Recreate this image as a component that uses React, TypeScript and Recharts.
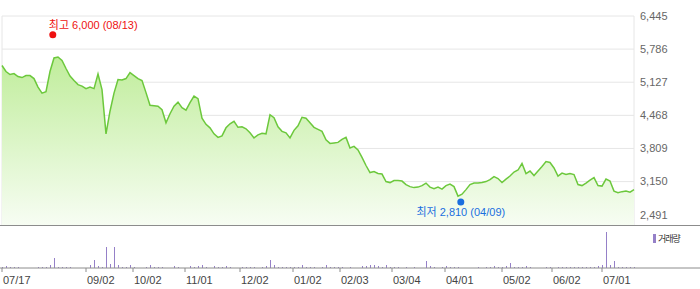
import {
  Area,
  AreaChart,
  Bar,
  CartesianGrid,
  ComposedChart,
  ReferenceDot,
  XAxis,
  YAxis,
} from "recharts";

const FONT = "'Liberation Sans', 'Noto Sans CJK KR', sans-serif";

// closing prices, one sample per slot from 07/17 to early 07
const closePrices = [
  5460, 5340, 5280, 5300, 5240, 5220, 5260, 5260, 5200, 5030,
  4910, 4940, 5340, 5610, 5630, 5560, 5400, 5250, 5160, 5080,
  5050, 5000, 5030, 5000, 5290, 4980, 4100, 4550, 4910, 5180,
  5170, 5200, 5320, 5260, 5200, 5160, 4920, 4670, 4660, 4650,
  4580, 4320, 4500, 4650, 4730, 4620, 4570, 4720, 4850, 4800,
  4410, 4290, 4220, 4100, 4030, 4060, 4220, 4300, 4350, 4230,
  4240, 4200, 4120, 4020, 4080, 4110, 4100, 4480, 4420, 4240,
  4150, 4120, 4020, 4170, 4260, 4430, 4410, 4320, 4230, 4190,
  4150, 3980, 3910, 3920, 3930, 3990, 4030, 3820, 3850, 3780,
  3630, 3470, 3330, 3350, 3310, 3300, 3150, 3130, 3170, 3170,
  3160, 3090, 3050, 3030, 3040, 3070, 3120, 3040, 3010, 3040,
  3000, 3070, 3100, 3050, 2860, 2900, 2990, 3090, 3120, 3120,
  3130, 3150, 3190, 3250, 3210, 3130, 3200, 3260, 3340, 3380,
  3510, 3310, 3360, 3270, 3360, 3450, 3550, 3530, 3420, 3260,
  3320, 3290, 3310, 3290, 3090, 3070, 3120, 3180, 3230, 3070,
  3060, 3200, 3160, 2960, 2930, 2950, 2960, 2940, 2990,
];

// traded volume (thousand shares)
const volumes = [
  25, 50, 25, 22, 20, 0, 0, 0, 0, 22,
  24, 26, 75, 250, 24, 22, 20, 24, 0, 0,
  0, 0, 72, 200, 48, 25, 525, 100, 525, 75,
  25, 22, 75, 20, 0, 0, 22, 70, 24, 22,
  20, 0, 0, 48, 22, 0, 0, 50, 22, 48,
  74, 22, 0, 46, 24, 22, 48, 22, 0, 0,
  24, 22, 20, 24, 0, 22, 50, 200, 75, 25,
  22, 24, 20, 22, 24, 75, 22, 25, 20, 0,
  22, 75, 24, 22, 20, 22, 0, 20, 0, 0,
  50, 46, 75, 72, 48, 24, 75, 22, 20, 22,
  0, 20, 0, 22, 0, 0, 175, 48, 22, 0,
  24, 45, 22, 24, 22, 0, 0, 0, 0, 22,
  0, 20, 22, 48, 24, 22, 50, 125, 24, 22,
  25, 48, 22, 0, 0, 0, 20, 22, 0, 22,
  24, 22, 20, 24, 22, 22, 24, 20, 25, 48,
  75, 900, 75, 175, 24, 22, 25, 22, 20,
];

const dateTicks = [0, 21, 32.75, 45.75, 59.5, 72.75, 84.5, 97.5, 110.75, 125, 137.5, 150];
const dateLabels = ["07/17", "09/02", "10/02", "11/01", "12/02", "01/02", "02/03", "03/04", "04/01", "05/02", "06/02", "07/01"];

const priceTicks = [2491, 3150, 3809, 4468, 5127, 5786, 6445];
const priceDomain = [2286, 6445];

const high = { idx: 12.7, price: 6000, date: "08/13" };
const low = { idx: 114.7, price: 2810, date: "04/09" };

const rows = closePrices.map((price, i) => ({ i, price, volume: volumes[i] }));
const lastIdx = rows.length - 1;

function HighMarker({ cx, cy }: any) {
  return (
    <g>
      <circle cx={cx} cy={cy - 3.5} r={3.5} fill="#ee1111" />
      <text x={cx - 4} y={cy - 13.5} dy="0.35em" fontSize={11} fill="#ee1111">
        최고 {high.price.toLocaleString("en-US")} ({high.date})
      </text>
    </g>
  );
}

function LowMarker({ cx, cy }: any) {
  return (
    <g>
      <circle cx={cx} cy={cy + 3.3} r={3.5} fill="#1a6fdf" />
      <text x={cx} y={cy + 13.7} dy="0.35em" textAnchor="middle" fontSize={11} fill="#1a6fdf">
        최저 {low.price.toLocaleString("en-US")} ({low.date})
      </text>
    </g>
  );
}

function VolumeBar({ x, y, width, height }: any) {
  if (!height || height <= 0) return <g />;
  const bottom = Math.round(y + height);
  const h = Math.max(1, Math.round(height));
  return <rect x={Math.round(x + width / 2)} y={bottom - h} width={1} height={h} fill="#9580c8" />;
}

function DateTick({ x, y, payload }: any) {
  const label = dateLabels[dateTicks.indexOf(payload.value)];
  return (
    <text x={x + 1} y={y + 10} textAnchor="start" fontSize={11} fill="#444">
      {label}
    </text>
  );
}

export default function App() {
  return (
    <div style={{ position: "absolute", left: 0, top: 0, width: 700, height: 289, background: "#fff", fontFamily: FONT }}>
      <AreaChart width={700} height={225} data={rows} margin={{ top: 16, right: 0, bottom: 0, left: 2 }}>
        <defs>
          <linearGradient id="priceFill" x1="0" y1="0" x2="0" y2="1">
            <stop offset="0%" stopColor="#c0ed9b" />
            <stop offset="100%" stopColor="#f7fdf3" />
          </linearGradient>
        </defs>
        <CartesianGrid stroke="#e6e6e6" />
        <XAxis
          dataKey="i"
          type="number"
          domain={[0, lastIdx]}
          ticks={dateTicks}
          interval={0}
          tick={false}
          axisLine={false}
          tickLine={false}
          height={0}
        />
        <YAxis
          orientation="right"
          width={66}
          domain={priceDomain}
          ticks={priceTicks}
          interval={0}
          axisLine={false}
          tickLine={false}
          tickMargin={0}
          tick={{ fontSize: 11, fill: "#666" }}
          tickFormatter={(value) => Number(value).toLocaleString("en-US")}
        />
        <Area
          type="linear"
          dataKey="price"
          stroke="#6cc83c"
          strokeWidth={1.5}
          fill="url(#priceFill)"
          fillOpacity={1}
          isAnimationActive={false}
        />
        <ReferenceDot x={high.idx} y={high.price} r={3} shape={(p: any) => <HighMarker {...p} />} />
        <ReferenceDot x={low.idx} y={low.price} r={3} shape={(p: any) => <LowMarker {...p} />} />
      </AreaChart>
      <div style={{ height: 1, background: "#8c8c8c" }} />
      <ComposedChart width={700} height={63} data={rows} margin={{ top: 6, right: 0, bottom: 0, left: 0 }}>
        <XAxis
          dataKey="i"
          type="number"
          domain={[0, lastIdx]}
          ticks={dateTicks}
          interval={0}
          padding={{ left: 2, right: 66 }}
          height={21}
          tickSize={4}
          stroke="#8c8c8c"
          tick={<DateTick />}
        />
        <YAxis hide domain={[0, 900]} />
        <Bar dataKey="volume" barSize={1} shape={<VolumeBar />} isAnimationActive={false} />
      </ComposedChart>
      <div style={{ position: "absolute", left: 653, top: 232, display: "flex", alignItems: "center", fontSize: 9, color: "#333", letterSpacing: -1 }}>
        <span style={{ display: "inline-block", width: 3, height: 9, background: "#9580c8", marginRight: 2 }} />
        거래량
      </div>
    </div>
  );
}
